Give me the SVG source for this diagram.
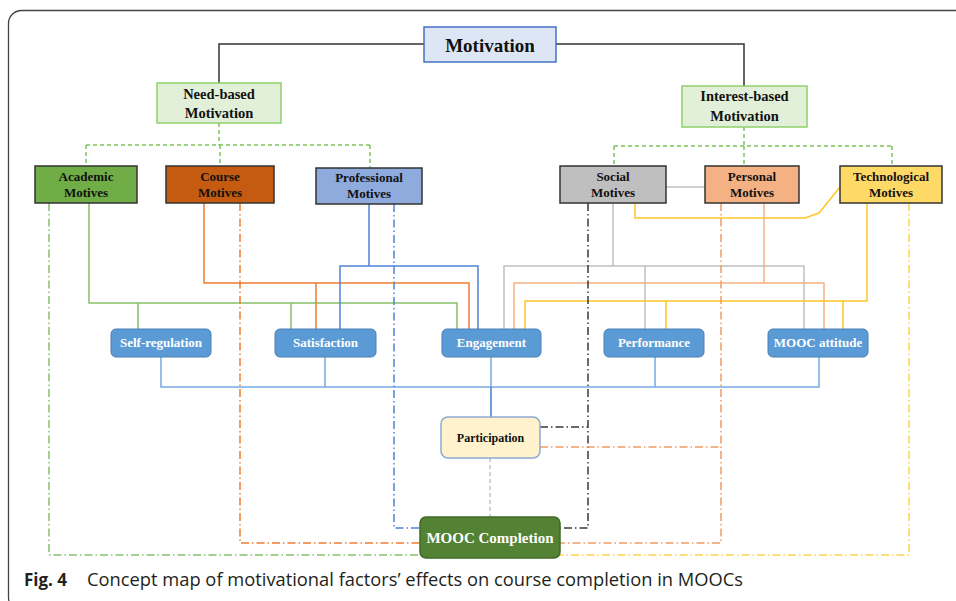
<svg xmlns="http://www.w3.org/2000/svg" width="956" height="601" viewBox="0 0 956 601">
<style>
.t{font-family:"Liberation Serif","Times New Roman",serif;font-weight:bold;text-anchor:middle;fill:#111}
.w{fill:#fff}
.mot{stroke:#333;stroke-width:1.5}
.mid{fill:#5b9bd5;stroke:#4a7fb8;stroke-width:1}
.c{fill:none;stroke-width:1.5}
.dd{stroke-dasharray:8 3 1.5 3}
.gd{stroke-dasharray:4 3}
</style>
<rect x="8.5" y="10.5" width="970" height="600" rx="13" fill="#fff" stroke="#444" stroke-width="1.3"/>
<g id="connectors">
<path class="c" d="M424,44 H219 V83" stroke="#333"/>
<path class="c" d="M556,44 H744 V86" stroke="#333"/>
<path class="c gd" d="M219,123 V145 M86,145 H370 M86,145 V166 M220,145 V166 M370,145 V168" stroke="#7cc35a"/>
<path class="c gd" d="M744,127 V146 M614,146 H892 M614,146 V166 M744,146 V166 M892,146 V166" stroke="#7cc35a"/>
<path class="c" d="M666,187 H705" stroke="#bfbfbf"/>
<path class="c" d="M635,203 V218 H805 L819,213 L840,187" stroke="#ffc629"/>
<path class="c" d="M89,203 V303 H457 V329 M138,303 V329 M291,303 V329" stroke="#86c06a"/>
<path class="c" d="M204,203 V283 H469 V329 M316,283 V329" stroke="#ed7d31"/>
<path class="c" d="M369,204 V266 M340,329 V266 H478 V329" stroke="#4f84d4"/>
<path class="c" d="M613,203 V266 M504,329 V266 H804 V329 M645,266 V329" stroke="#c0c0c0"/>
<path class="c" d="M764,203 V283 M514,329 V283 H824 V329" stroke="#f4b183"/>
<path class="c" d="M867,203 V301 H525 V329 M666,301 V329 M843,301 V329" stroke="#ffc629"/>
<path class="c" d="M161,357 V387 H819 V357 M325,357 V387 M491,357 V387 M655,357 V387" stroke="#74a9de"/>
<path class="c" d="M491,387 V417" stroke="#3f7fcf"/>
<path class="c gd" d="M490,458 V517" stroke="#c4c4c4"/>
<path class="c dd" d="M49,203 V555 H420" stroke="#86c06a"/>
<path class="c dd" d="M240,203 V543 H420" stroke="#ed7d31"/>
<path class="c dd" d="M394,204 V528 H420" stroke="#4f84d4"/>
<path class="c dd" d="M588,203 V528 H560 M540,427 H588" stroke="#3a3a3a"/>
<path class="c dd" d="M721,203 V543 H560 M540,447 H721" stroke="#f19c65"/>
<path class="c dd" d="M909,203 V555 H560" stroke="#ffd34d"/>
</g>
<g id="motivation">
<rect x="424" y="27" width="132" height="35" fill="#dce6f4" stroke="#4472c4" stroke-width="1.5"/>
<text class="t" x="490" y="52" font-size="19">Motivation</text>
</g>
<g id="need-based">
<rect x="157" y="83" width="124" height="40" fill="#e2f0d9" stroke="#8fd16a" stroke-width="1.5"/>
<text class="t" x="219" y="99" font-size="14.5">Need-based</text>
<text class="t" x="219" y="118" font-size="14.5">Motivation</text>
</g>
<g id="interest-based">
<rect x="682" y="86" width="125" height="41" fill="#e2f0d9" stroke="#8fd16a" stroke-width="1.5"/>
<text class="t" x="744.5" y="101" font-size="14.5">Interest-based</text>
<text class="t" x="744.5" y="121" font-size="14.5">Motivation</text>
</g>
<g id="academic">
<rect class="mot" x="35" y="166" width="102" height="37" fill="#70ad47"/>
<text class="t" x="86" y="181" font-size="13">Academic</text>
<text class="t" x="86" y="197" font-size="13">Motives</text>
</g>
<g id="course">
<rect class="mot" x="166" y="166" width="108" height="37" fill="#c55a11"/>
<text class="t" x="220" y="181" font-size="13">Course</text>
<text class="t" x="220" y="197" font-size="13">Motives</text>
</g>
<g id="professional">
<rect class="mot" x="316" y="168" width="106" height="36" fill="#8faadc"/>
<text class="t" x="369" y="182" font-size="13">Professional</text>
<text class="t" x="369" y="198" font-size="13">Motives</text>
</g>
<g id="social">
<rect class="mot" x="560" y="166" width="106" height="37" fill="#bfbfbf"/>
<text class="t" x="613" y="181" font-size="13">Social</text>
<text class="t" x="613" y="197" font-size="13">Motives</text>
</g>
<g id="personal">
<rect class="mot" x="705" y="166" width="94" height="37" fill="#f4b183"/>
<text class="t" x="752" y="181" font-size="13">Personal</text>
<text class="t" x="752" y="197" font-size="13">Motives</text>
</g>
<g id="technological">
<rect class="mot" x="840" y="166" width="102" height="37" fill="#ffd966"/>
<text class="t" x="891" y="181" font-size="13">Technological</text>
<text class="t" x="891" y="197" font-size="13">Motives</text>
</g>
<g id="self-regulation">
<rect class="mid" x="111" y="329" width="100" height="28" rx="5"/>
<text class="t w" x="161" y="347" font-size="13">Self-regulation</text>
</g>
<g id="satisfaction">
<rect class="mid" x="275" y="329" width="101" height="28" rx="5"/>
<text class="t w" x="325.5" y="347" font-size="13">Satisfaction</text>
</g>
<g id="engagement">
<rect class="mid" x="442" y="329" width="99" height="28" rx="5"/>
<text class="t w" x="491.5" y="347" font-size="13">Engagement</text>
</g>
<g id="performance">
<rect class="mid" x="604" y="329" width="100" height="28" rx="5"/>
<text class="t w" x="654" y="347" font-size="13">Performance</text>
</g>
<g id="mooc-attitude">
<rect class="mid" x="768" y="329" width="100" height="28" rx="5"/>
<text class="t w" x="818" y="347" font-size="13">MOOC attitude</text>
</g>
<g id="participation">
<rect x="441" y="417" width="99" height="41" rx="7" fill="#fff2cc" stroke="#8ea9cf" stroke-width="1.5"/>
<text class="t" x="490.5" y="442" font-size="12">Participation</text>
</g>
<g id="mooc-completion">
<rect x="420" y="517" width="140" height="41" rx="6" fill="#548235" stroke="#3f6a27" stroke-width="1.5"/>
<text class="t w" x="490" y="543" font-size="15">MOOC Completion</text>
</g>
<text x="24" y="586" font-family="'Open Sans','Noto Sans',sans-serif" font-size="18" fill="#231f20"><tspan font-weight="bold" textLength="43" lengthAdjust="spacingAndGlyphs">Fig. 4</tspan><tspan x="87" textLength="656" lengthAdjust="spacingAndGlyphs">Concept map of motivational factors’ effects on course completion in MOOCs</tspan></text>
</svg>
